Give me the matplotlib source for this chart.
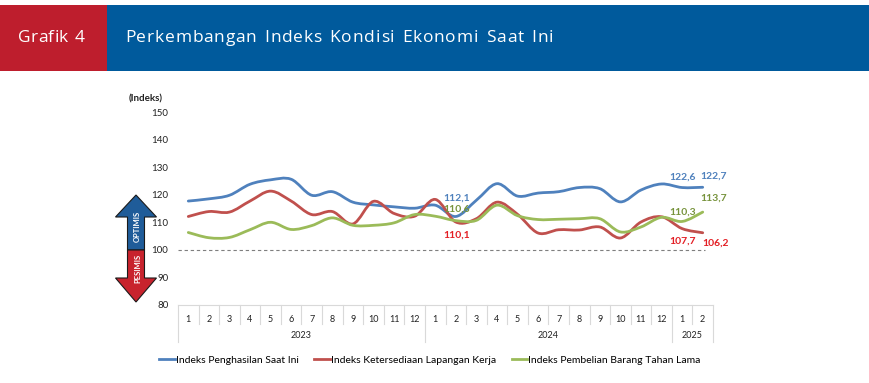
import numpy as np
import matplotlib
matplotlib.use('Agg')
import matplotlib.pyplot as plt
from matplotlib.path import Path
from matplotlib.patches import PathPatch, Polygon, Rectangle
from matplotlib.lines import Line2D
from matplotlib.font_manager import FontProperties

# data
months = [str(m) for m in range(1, 13)] + [str(m) for m in range(1, 13)] + ['1', '2']
years = ['2023', '2024', '2025']
year_len = [12, 12, 2]

penghasilan = [117.7, 118.5, 119.8, 123.8, 125.4, 125.6, 119.8, 121.1, 117.3, 116.3, 115.6, 115.1,
               116.2, 112.1, 118.0, 124.0, 119.5, 120.6, 121.1, 122.6, 122.2, 117.4, 121.7, 123.9,
               122.6, 122.7]
lapangan_kerja = [112.1, 113.9, 113.7, 117.7, 121.3, 117.7, 112.8, 113.9, 109.4, 117.6, 113.2, 112.2,
                  118.3, 110.1, 111.3, 117.3, 112.9, 106.1, 107.3, 107.2, 108.3, 104.3, 110.1, 112.0,
                  107.7, 106.2]
barang_tahan_lama = [106.3, 104.4, 104.5, 107.3, 110.0, 107.4, 108.8, 111.6, 108.9, 108.9, 109.8, 112.8,
                     112.2, 110.6, 110.7, 116.2, 112.4, 111.0, 111.1, 111.3, 111.3, 106.5, 108.3, 111.8,
                     110.3, 113.7]

series_names = ['Indeks Penghasilan Saat Ini', 'Indeks Ketersediaan Lapangan Kerja',
                'Indeks Pembelian Barang Tahan Lama']
line_colors = ['#4F81BD', '#C0504D', '#9BBB59']

# (index, series, text, dx, dy) offsets in pixels
labels = [
    (13, 0, '112,1', 1, 18, '#4F81BD'),
    (13, 2, '110,6', 1, 12, '#77933C'),
    (13, 1, '110,1', 1, -13, '#E31E24'),
    (24, 0, '122,6', 0, 10, '#4F81BD'),
    (25, 0, '122,7', 11, 11, '#4F81BD'),
    (25, 2, '113,7', 11, 14, '#77933C'),
    (24, 2, '110,3', 0, 9, '#77933C'),
    (24, 1, '107,7', 0, -12, '#E31E24'),
    (25, 1, '106,2', 13, -10, '#E31E24'),
]

W, H = 869, 383
fig = plt.figure(figsize=(W / 100, H / 100), dpi=100)

# overlay in pixel coordinates
bg = fig.add_axes([0, 0, 1, 1])
bg.set_xlim(0, W)
bg.set_ylim(H, 0)
bg.axis('off')
bg.set_zorder(0)

bg.add_patch(Rectangle((0, 5), 107, 66, color='#BE1E2D', lw=0))
bg.add_patch(Rectangle((107, 5), W - 107, 66, color='#005A9C', lw=0))

renderer = fig.canvas.get_renderer()


def spaced_text(x0, y, s, width, size):
    '''draw string char by char so it spans the given width'''
    fp = FontProperties(family='Open Sans', size=size)
    ws = [renderer.get_text_width_height_descent(c if c != ' ' else 'n', fp, ismath=False)[0]
          for c in s]
    ws = [w * 0.6 if c == ' ' else w for w, c in zip(ws, s)]
    ws = [w * 100 / fig.dpi for w in ws]
    extra = (width - sum(ws)) / (len(s) - 1)
    x = x0
    for c, w in zip(s, ws):
        if c != ' ':
            bg.text(x, y, c, fontproperties=fp, color='white', va='baseline', ha='left')
        x += w + extra


spaced_text(18, 42, 'Grafik 4', 67, 12.5)
spaced_text(125, 42, 'Perkembangan Indeks Kondisi Ekonomi Saat Ini', 428, 12.5)

# optimis / pesimis arrows
cx = 136
up = [(cx, 195), (cx + 20.5, 217), (cx + 8.5, 217), (cx + 8.5, 250), (cx - 8.5, 250),
      (cx - 8.5, 217), (cx - 20.5, 217)]
down = [(cx, 302), (cx + 20.5, 278), (cx + 8.5, 278), (cx + 8.5, 250), (cx - 8.5, 250),
        (cx - 8.5, 278), (cx - 20.5, 278)]
bg.add_patch(Polygon(up, closed=True, fc='#1F5C99', ec='#1a1a1a', lw=0.8))
bg.add_patch(Polygon(down, closed=True, fc='#C8232D', ec='#1a1a1a', lw=0.8))
bg.text(cx + 1.5, 226, 'OPTIMIS', rotation=90, color='white', fontsize=5.5, fontweight='bold',
        ha='center', va='center', family='Lato')
bg.text(cx + 1.5, 268, 'PESIMIS', rotation=90, color='white', fontsize=5.5, fontweight='bold',
        ha='center', va='center', family='Lato')

# main chart
ax = fig.add_axes([178 / W, 1 - 305 / H, 535 / W, 193 / H])
ax.set_zorder(1)
ax.patch.set_alpha(0)
n = len(months)
x = np.arange(n)
ax.set_xlim(-0.5, n - 0.5)
ax.set_ylim(80, 150)
ax.set_yticks(range(80, 151, 10))
ax.tick_params(axis='y', length=0, pad=7, labelsize=7, labelcolor='#222222')
ax.set_xticks(x)
ax.set_xticklabels(months)
ax.tick_params(axis='x', length=0, pad=7, labelsize=6.5, labelcolor='#222222')
for lab in ax.get_yticklabels() + ax.get_xticklabels():
    lab.set_family('Lato')
for s in ['left', 'right', 'top']:
    ax.spines[s].set_visible(False)
ax.spines['bottom'].set_color('#D9D9D9')
ax.spines['bottom'].set_linewidth(0.8)

ax.axhline(100, color='#7F7F7F', lw=0.8, dashes=(3, 2.5), xmax=0.985)


def smooth_path(xs, ys):
    '''excel-like smoothed line as cubic bezier'''
    pts = np.column_stack([xs, ys])
    verts = [pts[0]]
    codes = [Path.MOVETO]
    for i in range(len(pts) - 1):
        p0 = pts[i - 1] if i > 0 else pts[i]
        p1 = pts[i]
        p2 = pts[i + 1]
        p3 = pts[i + 2] if i + 2 < len(pts) else pts[i + 1]
        verts += [p1 + (p2 - p0) / 6, p2 - (p3 - p1) / 6, p2]
        codes += [Path.CURVE4] * 3
    return Path(verts, codes)


for vals, col in zip([penghasilan, lapangan_kerja, barang_tahan_lama], line_colors):
    ax.add_patch(PathPatch(smooth_path(x, np.array(vals)), fill=False, ec=col, lw=2,
                           capstyle='round', joinstyle='round', zorder=3))

all_series = [penghasilan, lapangan_kerja, barang_tahan_lama]
for idx, si, txt, dx, dy, col in labels:
    ax.annotate(txt, xy=(idx, all_series[si][idx]), xytext=(dx, dy), textcoords='offset pixels',
                ha='center', va='center', fontsize=7.5, fontweight='bold', color=col,
                family='Lato', zorder=4)

# category table under the axis
trans = ax.get_xaxis_transform()
month_h = 19 / 193
year_h = 37 / 193
year_edges = np.cumsum([0] + year_len) - 0.5
for b in np.arange(n + 1) - 0.5:
    h = year_h if b in year_edges else month_h
    ax.plot([b, b], [0, -h], transform=trans, color='#D9D9D9', lw=0.8, clip_on=False)
for yr, start, ln in zip(years, year_edges[:-1], year_len):
    ax.text(start + ln / 2, -30 / 193, yr, transform=trans, ha='center', va='center',
            fontsize=6.5, color='#222222', family='Lato')

ax.text(-0.028, 1.07, '(Indeks)', transform=ax.transAxes, ha='right', va='center', fontsize=7,
        fontweight='bold', family='Lato', color='#222222')

handles = [Line2D([], [], color=c, lw=2) for c in line_colors]
fig.legend(handles, series_names, loc='center', bbox_to_anchor=(430 / W, 1 - 360 / H), ncol=3,
           frameon=False, handlelength=1.5, handletextpad=0.1, columnspacing=1.5,
           prop={'family': 'Lato', 'size': 7.5})

fig.savefig('out.png', dpi=100)
